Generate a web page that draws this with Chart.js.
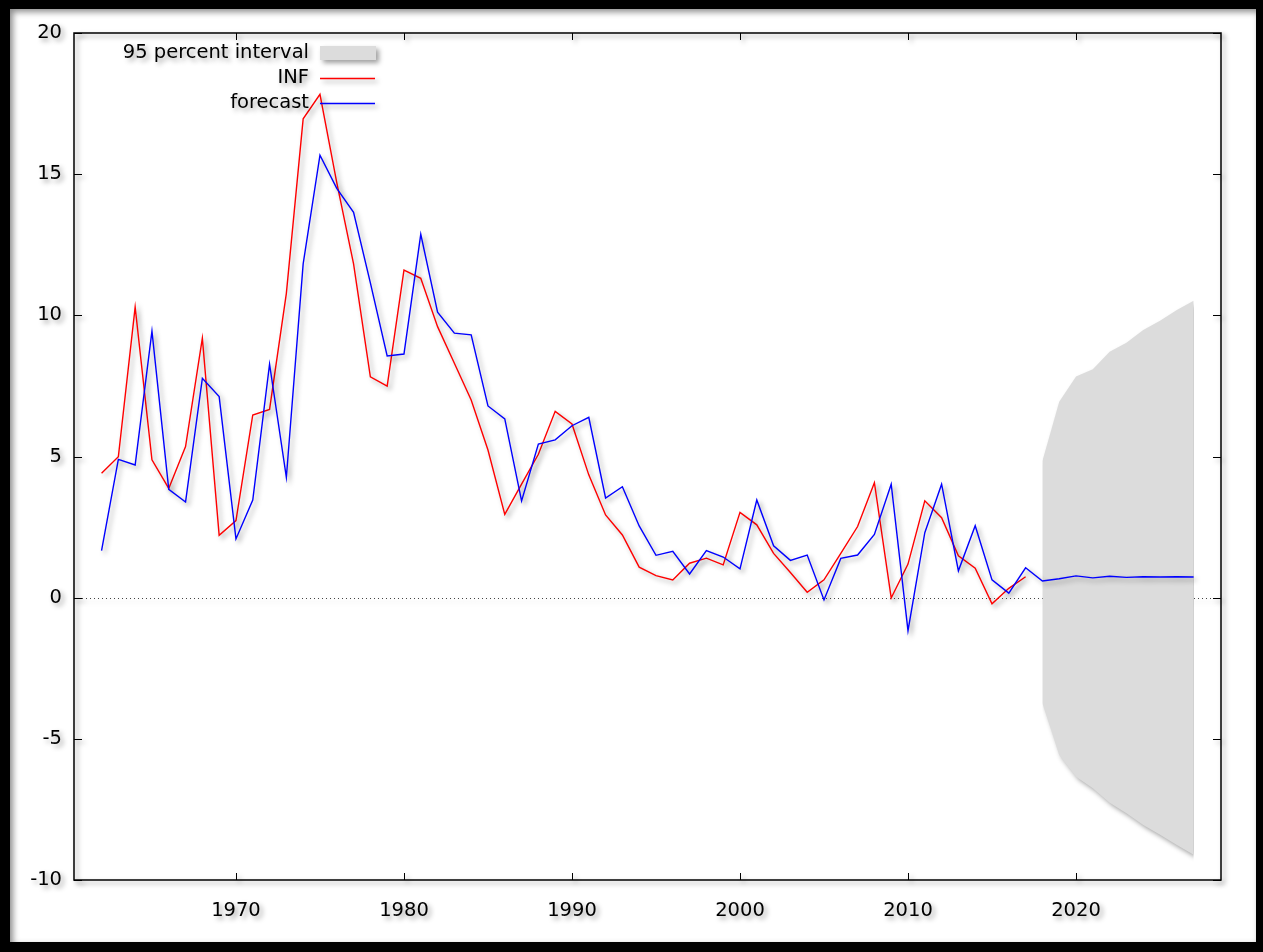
<!DOCTYPE html>
<html>
<head>
<meta charset="utf-8">
<script src="https://cdn.jsdelivr.net/npm/chart.js@4.4.0/dist/chart.umd.min.js"></script>
<style>
body { margin: 0; background: #fff; }
#chart { display: block; }
</style>
</head>
<body>
<canvas id="chart" width="1263" height="952"></canvas>
<script>
"use strict";

// actual inflation, 1962-2017
var years = [1962, 1963, 1964, 1965, 1966, 1967, 1968, 1969, 1970, 1971,
    1972, 1973, 1974, 1975, 1976, 1977, 1978, 1979, 1980, 1981,
    1982, 1983, 1984, 1985, 1986, 1987, 1988, 1989, 1990, 1991,
    1992, 1993, 1994, 1995, 1996, 1997, 1998, 1999, 2000, 2001,
    2002, 2003, 2004, 2005, 2006, 2007, 2008, 2009, 2010, 2011,
    2012, 2013, 2014, 2015, 2016, 2017];
var inf = [4.41, 4.99, 10.29, 4.88, 3.87, 5.35, 9.19, 2.21, 2.73, 6.47,
    6.67, 10.78, 16.96, 17.83, 14.7, 11.82, 7.82, 7.49, 11.6, 11.31,
    9.6, 8.3, 7.0, 5.23, 2.95, 4.02, 5.08, 6.6, 6.15, 4.35,
    2.93, 2.22, 1.08, 0.78, 0.63, 1.22, 1.4, 1.16, 3.02, 2.58,
    1.57, 0.89, 0.19, 0.63, 1.57, 2.52, 4.07, -0.01, 1.19, 3.43,
    2.83, 1.48, 1.04, -0.22, 0.33, 0.74];

// fitted values and out-of-sample forecast, 1962-2027
var fcYears = [1962, 1963, 1964, 1965, 1966, 1967, 1968, 1969, 1970, 1971,
    1972, 1973, 1974, 1975, 1976, 1977, 1978, 1979, 1980, 1981,
    1982, 1983, 1984, 1985, 1986, 1987, 1988, 1989, 1990, 1991,
    1992, 1993, 1994, 1995, 1996, 1997, 1998, 1999, 2000, 2001,
    2002, 2003, 2004, 2005, 2006, 2007, 2008, 2009, 2010, 2011,
    2012, 2013, 2014, 2015, 2016, 2017, 2018, 2019, 2020, 2021,
    2022, 2023, 2024, 2025, 2026, 2027];
var forecast = [1.67, 4.9, 4.7, 9.44, 3.84, 3.39, 7.77, 7.12, 2.08, 3.46,
    8.27, 4.26, 11.82, 15.67, 14.5, 13.65, 11.15, 8.56, 8.63, 12.87,
    10.11, 9.37, 9.31, 6.79, 6.33, 3.43, 5.44, 5.59, 6.09, 6.39,
    3.53, 3.93, 2.54, 1.5, 1.64, 0.84, 1.67, 1.44, 1.02, 3.46,
    1.84, 1.32, 1.51, -0.08, 1.39, 1.51, 2.24, 4.02, -1.17, 2.3,
    4.02, 0.95, 2.55, 0.63, 0.16, 1.06, 0.59, 0.67, 0.77, 0.70,
    0.76, 0.72, 0.74, 0.73, 0.74, 0.73];

// 95 percent interval, 2018-2027
var bandYears = [2018, 2019, 2020, 2021, 2022, 2023, 2024, 2025, 2026, 2027];
var upper = [4.84, 6.94, 7.83, 8.09, 8.71, 9.03, 9.48, 9.81, 10.19, 10.52];
var lower = [-3.74, -5.57, -6.34, -6.75, -7.26, -7.64, -8.05, -8.40, -8.76, -9.11];

var xTicks = [1970, 1980, 1990, 2000, 2010, 2020];
var yTicks = [-10, -5, 0, 5, 10, 15, 20];

var FONT = "DejaVu Sans, Verdana, sans-serif";

var toPoints = function(xs, ys) {
    return xs.map(function(x, i) { return {x: x, y: ys[i]}; });
};

var setShadow = function(ctx, on) {
    ctx.shadowColor = on ? "rgba(0,0,0,0.38)" : "rgba(0,0,0,0)";
    ctx.shadowBlur = on ? 5 : 0;
    ctx.shadowOffsetX = on ? 3 : 0;
    ctx.shadowOffsetY = on ? 3 : 0;
};

// gnuplot look: white page, soft shadows, inward ticks, box, zero line, key
var gnuplotLook = {
    id: "gnuplotLook",
    beforeDraw: function(chart) {
        var ctx = chart.ctx;
        ctx.save();
        ctx.fillStyle = "#fff";
        ctx.fillRect(0, 0, chart.width, chart.height);
        ctx.restore();
        setShadow(ctx, true);
    },
    beforeDatasetsDraw: function(chart) {
        var ctx = chart.ctx, a = chart.chartArea;
        var y0 = chart.scales.y.getPixelForValue(0);
        ctx.save();
        ctx.strokeStyle = "#444";
        ctx.lineWidth = 1;
        ctx.setLineDash([1, 3]);
        ctx.beginPath();
        ctx.moveTo(a.left, Math.round(y0) + 0.5);
        ctx.lineTo(a.right, Math.round(y0) + 0.5);
        ctx.stroke();
        ctx.restore();
    },
    afterDatasetsDraw: function(chart) {
        var ctx = chart.ctx, a = chart.chartArea;
        var xs = chart.scales.x, ys = chart.scales.y;
        ctx.save();
        ctx.strokeStyle = "#000";
        ctx.lineWidth = 1.5;
        ctx.strokeRect(a.left, a.top, a.right - a.left, a.bottom - a.top);
        ctx.lineWidth = 1;
        ctx.beginPath();
        xTicks.forEach(function(v) {
            var px = Math.round(xs.getPixelForValue(v)) + 0.5;
            ctx.moveTo(px, a.bottom); ctx.lineTo(px, a.bottom - 7);
            ctx.moveTo(px, a.top); ctx.lineTo(px, a.top + 7);
        });
        yTicks.forEach(function(v) {
            var py = Math.round(ys.getPixelForValue(v)) + 0.5;
            ctx.moveTo(a.left, py); ctx.lineTo(a.left + 8, py);
            ctx.moveTo(a.right, py); ctx.lineTo(a.right - 8, py);
        });
        ctx.stroke();

        // key, text right-aligned before the sample
        var ds = chart.data.datasets;
        var rows = [
            {label: ds[0].label, kind: "box", color: ds[0].backgroundColor},
            {label: ds[2].label, kind: "line", color: ds[2].borderColor},
            {label: ds[3].label, kind: "line", color: ds[3].borderColor}
        ];
        ctx.font = "19.5px " + FONT;
        ctx.textAlign = "right";
        ctx.textBaseline = "middle";
        rows.forEach(function(r, i) {
            var cy = 53 + i * 25;
            ctx.fillStyle = "#000";
            ctx.fillText(r.label, 309, cy);
            if (r.kind === "box") {
                ctx.fillStyle = r.color;
                ctx.fillRect(320, cy - 7, 56, 14);
            } else {
                ctx.strokeStyle = r.color;
                ctx.lineWidth = 1.3;
                ctx.beginPath();
                ctx.moveTo(320, cy + 0.5);
                ctx.lineTo(375, cy + 0.5);
                ctx.stroke();
            }
        });
        ctx.restore();
    },
    afterDraw: function(chart) {
        var ctx = chart.ctx;
        setShadow(ctx, false);
        ctx.save();
        // outer black frame with a soft inner shadow
        ctx.shadowColor = "rgba(0,0,0,0.45)";
        ctx.shadowBlur = 6;
        ctx.shadowOffsetX = 3;
        ctx.shadowOffsetY = 3;
        ctx.strokeStyle = "#000";
        ctx.lineWidth = 10;
        ctx.strokeRect(5, 4, chart.width - 7, chart.height - 9);
        ctx.restore();
    }
};

var ctx = document.getElementById("chart").getContext("2d");
var chart = new Chart(ctx, {
    type: "line",
    data: {
        datasets: [{
            label: "95 percent interval",
            data: toPoints(bandYears, upper),
            backgroundColor: "#dcdcdc",
            borderWidth: 0,
            pointRadius: 0,
            fill: "+1",
            order: 3
        }, {
            label: "lower",
            data: toPoints(bandYears, lower),
            backgroundColor: "#dcdcdc",
            borderWidth: 0,
            pointRadius: 0,
            fill: false,
            order: 4
        }, {
            label: "INF",
            data: toPoints(years, inf),
            borderColor: "#ff0000",
            borderWidth: 1.4,
            pointRadius: 0,
            fill: false,
            tension: 0,
            order: 1
        }, {
            label: "forecast",
            data: toPoints(fcYears, forecast),
            borderColor: "#0000ff",
            borderWidth: 1.4,
            pointRadius: 0,
            fill: false,
            tension: 0,
            order: 0
        }]
    },
    options: {
        responsive: false,
        animation: false,
        layout: { padding: { left: 10, top: 33, right: 42, bottom: 0 } },
        plugins: {
            legend: { display: false },
            tooltip: { enabled: false },
            filler: { propagate: false }
        },
        scales: {
            x: {
                type: "linear",
                min: 1960.36,
                max: 2028.63,
                afterBuildTicks: function(s) { s.ticks = xTicks.map(function(v) { return {value: v}; }); },
                afterFit: function(s) { s.height = 72; },
                grid: { display: false, drawTicks: false },
                border: { display: false },
                ticks: {
                    padding: 19,
                    color: "#000",
                    font: { family: FONT, size: 19.5 },
                    maxRotation: 0,
                    callback: function(v) { return String(v); }
                }
            },
            y: {
                type: "linear",
                min: -10,
                max: 20,
                afterBuildTicks: function(s) { s.ticks = yTicks.map(function(v) { return {value: v}; }); },
                afterFit: function(s) { s.width = 64; },
                grid: { display: false, drawTicks: false },
                border: { display: false },
                ticks: {
                    padding: 12,
                    color: "#000",
                    font: { family: FONT, size: 19.5 },
                    callback: function(v) { return String(v); }
                }
            }
        }
    },
    plugins: [gnuplotLook]
});
</script>
</body>
</html>
